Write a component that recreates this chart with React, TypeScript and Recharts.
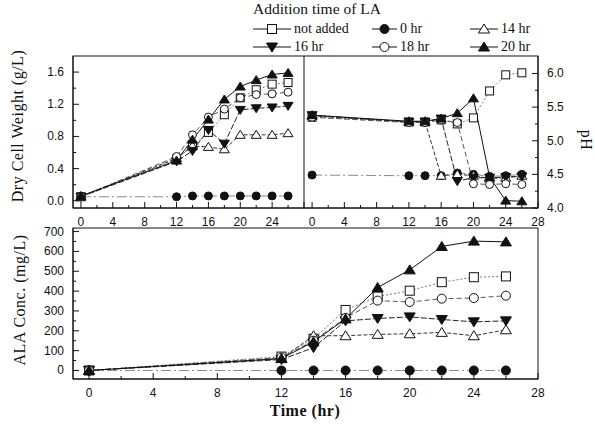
import React from "react";
import { LineChart, Line, XAxis, YAxis } from "recharts";

// sampling times (hr)
const times = [0, 12, 14, 16, 18, 20, 22, 24, 26];

// dry cell weight (g/L)
const dcwNotAdded = [0.05, 0.52, 0.68, 0.85, 1.07, 1.28, 1.38, 1.45, 1.47];
const dcw0 = [0.05, 0.05, 0.06, 0.06, 0.06, 0.06, 0.06, 0.06, 0.06];
const dcw14 = [0.05, 0.53, 0.68, 0.67, 0.64, 0.82, 0.82, 0.82, 0.84];
const dcw16 = [0.05, 0.49, 0.62, 0.88, 0.71, 1.13, 1.15, 1.16, 1.18];
const dcw18 = [0.05, 0.55, 0.82, 1.04, 1.14, 1.28, 1.32, 1.33, 1.35];
const dcw20 = [0.06, 0.5, 0.76, 1.01, 1.26, 1.42, 1.5, 1.57, 1.59];

// pH
const phNotAdded = [5.35, 5.28, 5.28, 5.31, 5.25, 5.34, 5.74, 5.98, 6.01];
const ph0 = [4.49, 4.48, 4.48, 4.48, 4.52, 4.5, 4.47, 4.48, 4.5];
const ph14 = [5.37, 5.28, 5.28, 4.48, 4.5, 4.48, 4.44, 4.45, 4.48];
const ph16 = [5.38, 5.28, 5.28, 5.33, 4.4, 4.45, 4.45, 4.46, 4.47];
const ph18 = [5.35, 5.27, 5.27, 5.31, 5.27, 4.36, 4.35, 4.36, 4.35];
const ph20 = [5.38, 5.29, 5.29, 5.33, 5.41, 5.63, 4.46, 4.11, 4.1];

// ALA concentration (mg/L)
const alaNotAdded = [0, 70, 160, 305, 372, 402, 445, 470, 474];
const ala0 = [0, 0, 0, 0, 0, 0, 0, 0, 0];
const ala14 = [0, 60, 175, 175, 182, 185, 192, 175, 205];
const ala16 = [0, 55, 115, 250, 262, 270, 257, 245, 250];
const ala18 = [0, 65, 150, 265, 352, 345, 362, 365, 377];
const ala20 = [0, 60, 145, 260, 418, 507, 625, 652, 648];

// ticks
const xTicks = [0, 2, 4, 6, 8, 10, 12, 14, 16, 18, 20, 22, 24, 26, 28];
const xLabelsTop = [0, 4, 8, 12, 16, 20, 24];
const xLabels = [0, 4, 8, 12, 16, 20, 24, 28];
const dcwTicks = [0, 0.2, 0.4, 0.6, 0.8, 1.0, 1.2, 1.4, 1.6];
const dcwLabels = [0, 0.4, 0.8, 1.2, 1.6];
const phTicks = [4.0, 4.25, 4.5, 4.75, 5.0, 5.25, 5.5, 5.75, 6.0];
const phLabels = [4.0, 4.5, 5.0, 5.5, 6.0];
const alaTicks = [0, 50, 100, 150, 200, 250, 300, 350, 400, 450, 500, 550, 600, 650, 700];
const alaLabels = [0, 100, 200, 300, 400, 500, 600, 700];

const series = [
  { key: "h0", name: "0 hr", shape: "circle", stroke: "#8a8a8a", dash: "10 3 2 3" },
  { key: "na", name: "not added", shape: "square", stroke: "#7a7a7a", dash: "2 2" },
  { key: "h14", name: "14 hr", shape: "triUp", stroke: "#333", dash: "4 2" },
  { key: "h16", name: "16 hr", shape: "triDown", stroke: "#222", dash: "6 2" },
  { key: "h18", name: "18 hr", shape: "circleOpen", stroke: "#555", dash: "5 3" },
  { key: "h20", name: "20 hr", shape: "triUpFilled", stroke: "#111", dash: undefined },
];

const build = (na: number[], a: number[], b: number[], c: number[], d: number[], e: number[]) =>
  times.map((t, i) => ({ t, na: na[i], h0: a[i], h14: b[i], h16: c[i], h18: d[i], h20: e[i] }));

const dcwRows = build(dcwNotAdded, dcw0, dcw14, dcw16, dcw18, dcw20);
const phRows = build(phNotAdded, ph0, ph14, ph16, ph18, ph20);
const alaRows = build(alaNotAdded, ala0, ala14, ala16, ala18, ala20);

const TICK_FONT = "'Liberation Sans', Arial, sans-serif";
const SERIF = "'Liberation Serif', 'Times New Roman', serif";

// plot frames (left, top, right, bottom) in page pixels
const LEFT = 73;
const MID = 304;
const RIGHT = 538;
const TOP_Y0 = 56;
const TOP_Y1 = 208;
const BOT_Y0 = 228;
const BOT_Y1 = 379;

function Marker({ cx, cy, shape, s = 5 }: { cx: number; cy: number; shape: string; s?: number }) {
  if (cx == null || cy == null) return null;
  const open = { fill: "#fff", stroke: "#111", strokeWidth: 1 };
  const filled = { fill: "#111", stroke: "#111", strokeWidth: 1 };
  switch (shape) {
    case "square":
      return <rect x={cx - s + 0.5} y={cy - s + 0.5} width={2 * s - 1} height={2 * s - 1} {...open} />;
    case "circle":
      return <circle cx={cx} cy={cy} r={s - 0.5} {...filled} />;
    case "circleOpen":
      return <circle cx={cx} cy={cy} r={s - 0.5} {...open} />;
    case "triUp":
      return <path d={`M${cx},${cy - s}L${cx + s + 0.5},${cy + s - 1}L${cx - s - 0.5},${cy + s - 1}Z`} {...open} />;
    case "triUpFilled":
      return <path d={`M${cx},${cy - s}L${cx + s + 0.5},${cy + s - 1}L${cx - s - 0.5},${cy + s - 1}Z`} {...filled} />;
    case "triDown":
      return <path d={`M${cx},${cy + s}L${cx + s + 0.5},${cy - s + 1}L${cx - s - 0.5},${cy - s + 1}Z`} {...filled} />;
    default:
      return null;
  }
}

function XTick(props: any) {
  const { x, y, payload, labels } = props;
  const major = payload.value % 4 === 0;
  return (
    <g>
      <line x1={x} x2={x} y1={y} y2={y - (major ? 6 : 3)} stroke="#111" />
      {labels.includes(payload.value) && (
        <text x={x} y={y + 18} textAnchor="middle" fontSize={12} fontFamily={TICK_FONT} fill="#111">
          {payload.value}
        </text>
      )}
    </g>
  );
}

function YTick(props: any) {
  const { x, y, payload, labels, side, fmt } = props;
  const major = labels.includes(payload.value);
  const dir = side === "left" ? 1 : -1;
  return (
    <g>
      <line x1={x} x2={x + dir * (major ? 6 : 3)} y1={y} y2={y} stroke="#111" />
      {major && (
        <text
          x={x - dir * 9}
          y={y + 4}
          textAnchor={side === "left" ? "end" : "start"}
          fontSize={12}
          fontFamily={TICK_FONT}
          fill="#111"
        >
          {fmt(payload.value)}
        </text>
      )}
    </g>
  );
}

const renderLines = (size: number) =>
  series.map((s) => (
    <Line
      key={s.key}
      dataKey={s.key}
      type="linear"
      stroke={s.stroke}
      strokeWidth={1}
      strokeDasharray={s.dash}
      isAnimationActive={false}
      activeDot={false}
      dot={(p: any) => <Marker key={`${s.key}-${p.index}`} cx={p.cx} cy={p.cy} shape={s.shape} s={size} />}
    />
  ));

const axisLine = { stroke: "#111", strokeWidth: 1 };

function LegendItem({ shape, label, x, y, lineW }: { shape: string; label: string; x: number; y: number; lineW: number }) {
  return (
    <div style={{ position: "absolute", left: x, top: y - 8, height: 16, display: "flex", alignItems: "center" }}>
      <svg width={lineW} height={16}>
        <line x1={0} x2={lineW} y1={8} y2={8} stroke="#111" />
        <Marker cx={lineW / 2} cy={8} shape={shape} s={5} />
      </svg>
      <span style={{ fontFamily: SERIF, fontSize: 14, marginLeft: 3, color: "#111" }}>{label}</span>
    </div>
  );
}

function AxisTitle({ text, x, y, rot, bold }: { text: string; x: number; y: number; rot: number; bold?: boolean }) {
  return (
    <div
      style={{
        position: "absolute",
        left: x,
        top: y,
        transform: `translate(-50%, -50%) rotate(${rot}deg)`,
        whiteSpace: "nowrap",
        fontFamily: SERIF,
        fontSize: 16,
        fontWeight: bold ? "bold" : "normal",
        letterSpacing: 0.5,
        color: "#111",
      }}
    >
      {text}
    </div>
  );
}

export default function App() {
  return (
    <div style={{ position: "absolute", left: 0, top: 0, width: 595, height: 432, background: "#fff" }}>
      {/* legend */}
      <div style={{ position: "absolute", left: 253, top: 0, fontFamily: SERIF, fontSize: 15.5, color: "#111" }}>
        Addition time of LA
      </div>
      <LegendItem shape="square" label="not added" x={253} y={29} lineW={38} />
      <LegendItem shape="circle" label="0 hr" x={372} y={29} lineW={25} />
      <LegendItem shape="triUp" label="14 hr" x={470} y={29} lineW={28} />
      <LegendItem shape="triDown" label="16 hr" x={253} y={47} lineW={38} />
      <LegendItem shape="circleOpen" label="18 hr" x={372} y={47} lineW={25} />
      <LegendItem shape="triUpFilled" label="20 hr" x={470} y={47} lineW={28} />

      {/* dry cell weight */}
      <div style={{ position: "absolute", left: 0, top: 0 }}>
        <LineChart width={MID + 1} height={240} data={dcwRows} margin={{ top: TOP_Y0, right: 1, bottom: 0, left: 0 }}>
          <XAxis
            dataKey="t"
            type="number"
            domain={[-1, 28]}
            ticks={xTicks}
            interval={0}
            tickSize={0}
            tickMargin={0}
            tickLine={false}
            height={240 - TOP_Y1}
            axisLine={axisLine}
            tick={(p: any) => <XTick {...p} labels={xLabelsTop} />}
          />
          <YAxis
            type="number"
            domain={[-0.09, 1.8]}
            ticks={dcwTicks}
            interval={0}
            width={LEFT}
            tickSize={0}
            tickMargin={0}
            tickLine={false}
            axisLine={axisLine}
            tick={(p: any) => <YTick {...p} labels={dcwLabels} side="left" fmt={(v: number) => v.toFixed(1)} />}
          />
          {renderLines(4.5)}
        </LineChart>
      </div>

      {/* pH */}
      <div style={{ position: "absolute", left: MID, top: 0 }}>
        <LineChart width={595 - MID} height={240} data={phRows} margin={{ top: TOP_Y0, right: 0, bottom: 0, left: 0 }}>
          <XAxis
            dataKey="t"
            type="number"
            domain={[-1, 28]}
            ticks={xTicks}
            interval={0}
            tickSize={0}
            tickMargin={0}
            tickLine={false}
            height={240 - TOP_Y1}
            axisLine={axisLine}
            tick={(p: any) => <XTick {...p} labels={xLabels} />}
          />
          <YAxis
            orientation="right"
            type="number"
            domain={[4.0, 6.26]}
            ticks={phTicks}
            interval={0}
            width={595 - RIGHT}
            tickSize={0}
            tickMargin={0}
            tickLine={false}
            axisLine={axisLine}
            tick={(p: any) => <YTick {...p} labels={phLabels} side="right" fmt={(v: number) => v.toFixed(1)} />}
          />
          {renderLines(4.5)}
        </LineChart>
      </div>

      {/* ALA */}
      <div style={{ position: "absolute", left: 0, top: 200 }}>
        <LineChart width={595} height={232} data={alaRows} margin={{ top: BOT_Y0 - 200, right: 595 - RIGHT, bottom: 0, left: 0 }}>
          <XAxis
            dataKey="t"
            type="number"
            domain={[-1, 28]}
            ticks={xTicks}
            interval={0}
            tickSize={0}
            tickMargin={0}
            tickLine={false}
            height={432 - BOT_Y1}
            axisLine={axisLine}
            tick={(p: any) => <XTick {...p} labels={xLabels} />}
          />
          <YAxis
            type="number"
            domain={[-43, 718]}
            ticks={alaTicks}
            interval={0}
            width={LEFT}
            tickSize={0}
            tickMargin={0}
            tickLine={false}
            axisLine={axisLine}
            tick={(p: any) => <YTick {...p} labels={alaLabels} side="left" fmt={(v: number) => String(v)} />}
          />
          {renderLines(5)}
        </LineChart>
      </div>

      {/* panel frames */}
      <svg width={595} height={432} style={{ position: "absolute", left: 0, top: 0, pointerEvents: "none" }}>
        <rect x={LEFT} y={TOP_Y0} width={RIGHT - LEFT} height={TOP_Y1 - TOP_Y0} fill="none" stroke="#111" />
        <line x1={MID} x2={MID} y1={TOP_Y0} y2={TOP_Y1} stroke="#111" />
        <rect x={LEFT} y={BOT_Y0} width={RIGHT - LEFT} height={BOT_Y1 - BOT_Y0} fill="none" stroke="#111" />
      </svg>

      <AxisTitle text="Dry Cell Weight (g/L)" x={18} y={126} rot={-90} />
      <AxisTitle text="pH" x={586} y={140} rot={90} />
      <AxisTitle text="ALA Conc. (mg/L)" x={20} y={300} rot={-90} />
      <AxisTitle text="Time (hr)" x={305} y={411} rot={0} bold />
    </div>
  );
}
